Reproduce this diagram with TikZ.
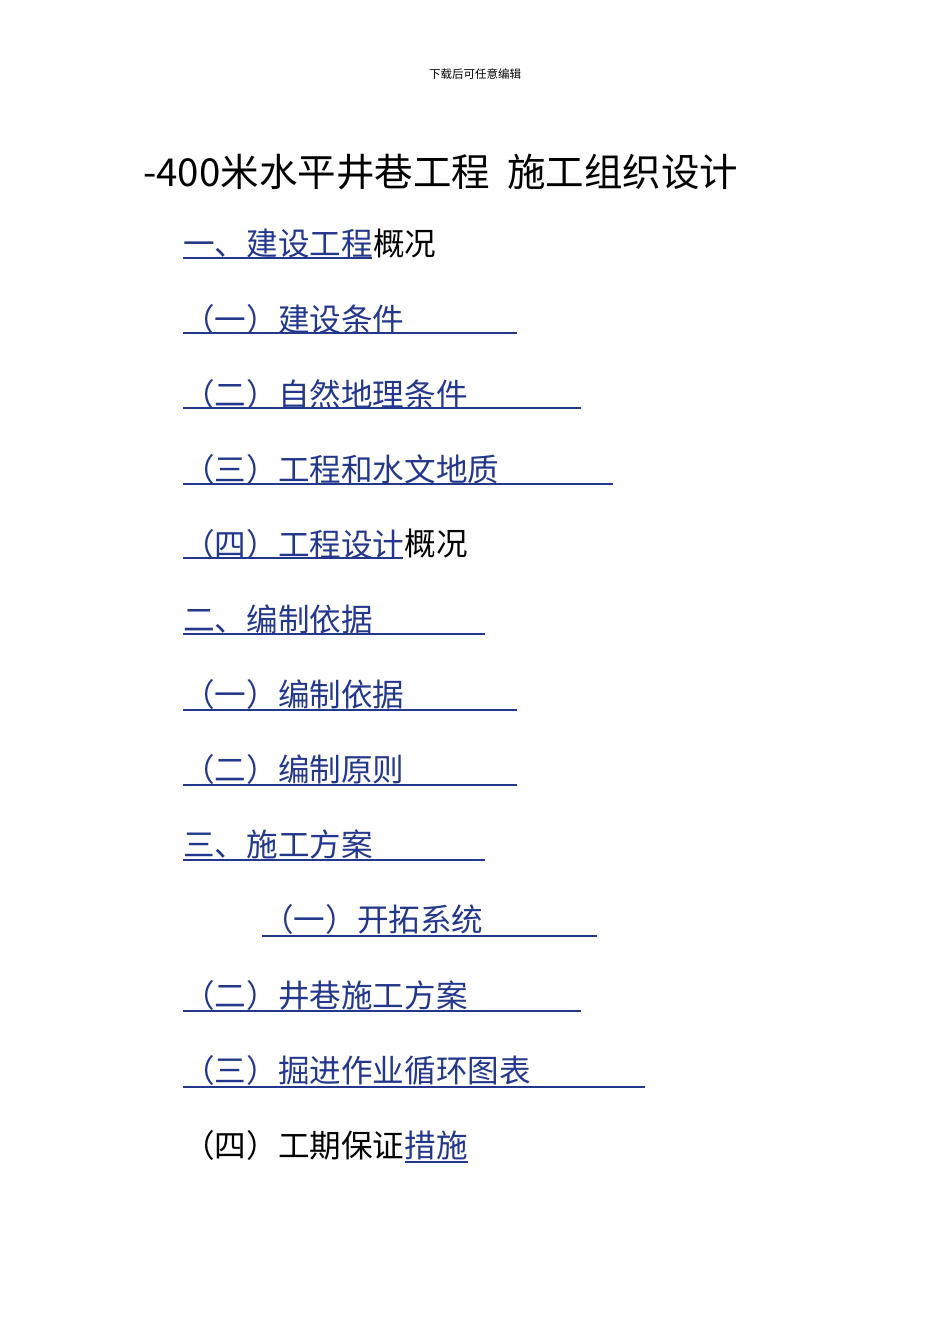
\documentclass[tikz,border=0pt]{standalone}
\usepackage{fontspec}
\newfontfamily\cjk{Noto Sans CJK SC}
\definecolor{lnk}{RGB}{35,55,140}
\begin{document}
\begin{tikzpicture}[x=1pt,y=-1pt,
  item/.style={anchor=west,inner sep=0pt,font=\cjk\fontsize{31.6}{32}\selectfont},
  ul/.style={draw=lnk,line width=1.2pt}]
\useasboundingbox (0,0) rectangle (950,1344);
\node[inner sep=0pt,font=\cjk\fontsize{11.5}{12}\selectfont] (hdr) at (475,74) {下载后可任意编辑};
\node[item,font=\cjk\fontsize{38.5}{39}\selectfont] (title) at (143,172) {-400米水平井巷工程\ \ 施工组织设计};
\node[item,text=lnk] (a1) at (183,244) {一、建设工程};
\node[item,anchor=west] (a1b) at (a1.east) {概况};
\draw[ul] (183,258) -- (372,258);
\node[item,text=lnk] (a2) at (183,319) {（一）建设条件};
\draw[ul] (183,333) -- (517,333);
\node[item,text=lnk] (a3) at (183,394) {（二）自然地理条件};
\draw[ul] (183,408) -- (581,408);
\node[item,text=lnk] (a4) at (183,469) {（三）工程和水文地质};
\draw[ul] (183,484) -- (613,484);
\node[item,text=lnk] (a5) at (183,544) {（四）工程设计};
\node[item] (a5b) at (a5.east) {概况};
\draw[ul] (183,558) -- (403,558);
\node[item,text=lnk] (a6) at (183,619) {二、编制依据};
\draw[ul] (183,634) -- (485,634);
\node[item,text=lnk] (a7) at (183,694) {（一）编制依据};
\draw[ul] (183,710) -- (517,710);
\node[item,text=lnk] (a8) at (183,769) {（二）编制原则};
\draw[ul] (183,785) -- (517,785);
\node[item,text=lnk] (a9) at (183,844) {三、施工方案};
\draw[ul] (183,860) -- (485,860);
\node[item,text=lnk] (a10) at (262,919) {（一）开拓系统};
\draw[ul] (262,936) -- (597,936);
\node[item,text=lnk] (a11) at (183,995) {（二）井巷施工方案};
\draw[ul] (183,1011) -- (581,1011);
\node[item,text=lnk] (a12) at (183,1070) {（三）掘进作业循环图表};
\draw[ul] (183,1087) -- (645,1087);
\node[item] (a13) at (183,1145) {（四）工期保证};
\node[item,text=lnk] (a13b) at (a13.east) {措施};
\draw[ul] (a13b.west |- 0,1162) -- (a13b.east |- 0,1162);
\end{tikzpicture}
\end{document}
